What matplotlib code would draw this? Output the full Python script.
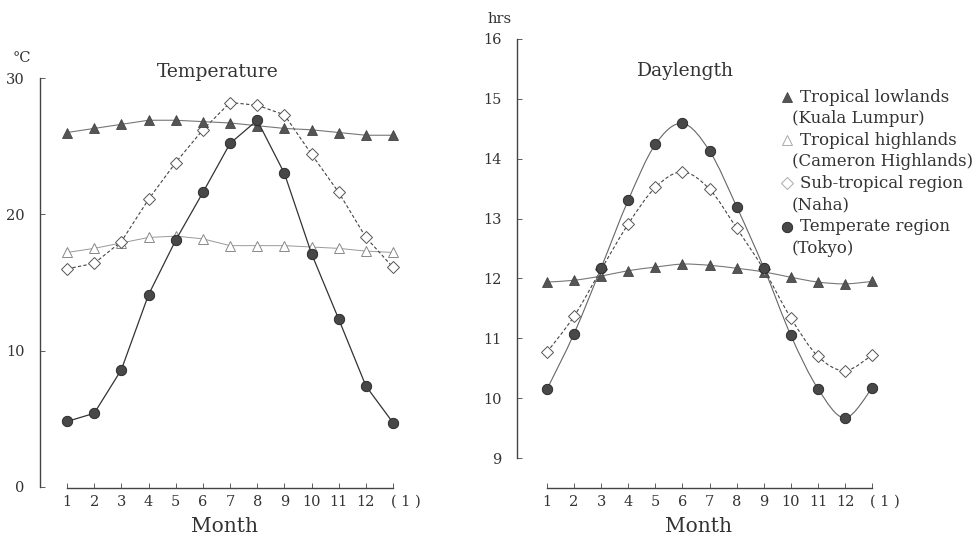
import numpy as np
import matplotlib.pyplot as plt
from matplotlib.path import Path
from matplotlib.patches import PathPatch
from matplotlib.lines import Line2D
from matplotlib.transforms import offset_copy

plt.rcParams['font.family'] = ['DejaVu Serif']

# data
months = np.arange(1, 14)
month_labels = ['1', '2', '3', '4', '5', '6', '7', '8', '9', '10', '11', '12', '( 1 )']

# Temperature (deg C)
temp_lowlands = [26.0, 26.3, 26.6, 26.9, 26.9, 26.8, 26.7, 26.5, 26.3, 26.2, 26.0, 25.8, 25.8]
temp_highlands = [17.2, 17.5, 17.9, 18.3, 18.4, 18.2, 17.7, 17.7, 17.7, 17.6, 17.5, 17.3, 17.2]
temp_subtrop = [16.0, 16.4, 18.0, 21.1, 23.8, 26.2, 28.2, 28.0, 27.3, 24.4, 21.6, 18.3, 16.1]
temp_temperate = [4.8, 5.4, 8.6, 14.1, 18.1, 21.6, 25.2, 26.9, 23.0, 17.1, 12.3, 7.4, 4.7]

# Daylength (hrs)
day_lowlands = [11.94, 11.97, 12.04, 12.13, 12.19, 12.24, 12.22, 12.17, 12.11, 12.02, 11.94, 11.91, 11.95]
day_subtrop = [10.77, 11.37, 12.15, 12.91, 13.52, 13.78, 13.49, 12.84, 12.15, 11.34, 10.70, 10.46, 10.72]
day_temperate = [10.15, 11.08, 12.18, 13.31, 14.24, 14.59, 14.13, 13.20, 12.18, 11.05, 10.16, 9.67, 10.17]

legend_lines = [('Tropical lowlands', '(Kuala Lumpur)'),
                ('Tropical highlands', '(Cameron Highlands)'),
                ('Sub-tropical region', '(Naha)'),
                ('Temperate region', '(Tokyo)')]

ink = '#333333'

sty_low = dict(color='#777777', lw=0.8, marker='^', ms=7, mfc='#555555', mec='#444444', mew=0.6)
sty_high = dict(color='#999999', lw=0.7, marker='^', ms=7.5, mfc='white', mec='#888888', mew=0.7)
sty_sub = dict(color='#444444', lw=0.8, ls=(0, (3, 2)), marker='D', ms=5.8, mfc='white', mec='#555555', mew=0.7)
sty_temp = dict(color='#333333', lw=0.9, marker='o', ms=7.5, mfc='#484848', mec='#222222', mew=0.6)


def smooth_path(x, y):
    # catmull-rom curve through the points, as bezier segments
    pts = np.column_stack([x, y]).astype(float)
    p = np.vstack([pts[0], pts, pts[-1]])
    verts = [tuple(pts[0])]
    codes = [Path.MOVETO]
    for i in range(1, len(p) - 2):
        c1 = p[i] + (p[i + 1] - p[i - 1]) / 6
        c2 = p[i + 1] - (p[i + 2] - p[i]) / 6
        verts += [tuple(c1), tuple(c2), tuple(p[i + 1])]
        codes += [Path.CURVE4] * 3
    return Path(verts, codes)


def style_axes(ax, ybounds, yticks):
    for s in ['top', 'right']:
        ax.spines[s].set_visible(False)
    for s in ['left', 'bottom']:
        ax.spines[s].set_color('#444444')
        ax.spines[s].set_linewidth(1.0)
    ax.spines['left'].set_bounds(*ybounds)
    ax.spines['bottom'].set_bounds(1, 13)
    ax.set_xticks(months)
    ax.set_xticklabels(month_labels)
    ax.set_yticks(yticks)
    ax.tick_params(direction='in', length=3.5, width=0.6, colors='#444444',
                   labelcolor=ink, labelsize=10.5)
    ax.tick_params(axis='y', pad=11)
    ax.tick_params(axis='x', pad=5)
    ax.set_facecolor('none')
    # the "(1)" label sits a bit right of its tick
    last = ax.get_xticklabels()[-1]
    last.set_transform(offset_copy(last.get_transform(), fig=ax.figure, x=13, units='dots'))


fig = plt.figure(figsize=(9.77, 5.37), dpi=100)
W, H = 977, 537

# ---- Temperature ----
ax1 = fig.add_axes([40 / W, 49 / H, 358 / W, 410 / H])
ax1.set_xlim(0.006, 13.18)
ax1.set_ylim(-0.08, 30.0)
style_axes(ax1, (0, 30), [0, 10, 20, 30])

ax1.plot(months, temp_lowlands, clip_on=False, zorder=3, **sty_low)
ax1.plot(months, temp_highlands, clip_on=False, zorder=2, **sty_high)
ax1.plot(months, temp_subtrop, clip_on=False, zorder=2, **sty_sub)
ax1.plot(months, temp_temperate, clip_on=False, zorder=4, **sty_temp)

fig.text(218 / W, 1 - 72 / H, 'Temperature', ha='center', va='center', fontsize=13.5, color=ink)
fig.text(22 / W, 1 - 58 / H, '°C', ha='center', va='center', fontsize=10.5, color=ink)
fig.text(224 / W, 1 - 527 / H, 'Month', ha='center', va='center', fontsize=14.5, color=ink)

# ---- Daylength ----
ax2 = fig.add_axes([517 / W, 49 / H, 360 / W, 449 / H])
ax2.set_xlim(-0.107, 13.18)
ax2.set_ylim(8.5, 16.0)
style_axes(ax2, (9, 16), list(range(9, 17)))

ax2.add_patch(PathPatch(smooth_path(months, day_lowlands), fill=False,
                        ec=sty_low['color'], lw=sty_low['lw'], zorder=2))
ax2.add_patch(PathPatch(smooth_path(months, day_subtrop), fill=False,
                        ec=sty_sub['color'], lw=sty_sub['lw'], ls=(0, (3, 2)), zorder=2))
ax2.add_patch(PathPatch(smooth_path(months, day_temperate), fill=False,
                        ec='#666666', lw=0.8, zorder=2))
mk = lambda d: {k: v for k, v in d.items() if k not in ('color', 'lw', 'ls')}
ax2.plot(months, day_lowlands, ls='none', zorder=3, clip_on=False, **mk(sty_low))
ax2.plot(months, day_subtrop, ls='none', zorder=3, clip_on=False, **mk(sty_sub))
ax2.plot(months, day_temperate, ls='none', zorder=4, clip_on=False, **mk(sty_temp))

fig.text(685 / W, 1 - 71 / H, 'Daylength', ha='center', va='center', fontsize=13.5, color=ink)
fig.text(500 / W, 1 - 19 / H, 'hrs', ha='center', va='center', fontsize=10.5, color=ink)
fig.text(699 / W, 1 - 527 / H, 'Month', ha='center', va='center', fontsize=14.5, color=ink)

# ---- legend ----
leg_markers = [mk(sty_low), mk(sty_high), mk(sty_sub), mk(sty_temp)]
leg_markers[1]['mec'] = '#aaaaaa'
leg_markers[2]['mec'] = '#aaaaaa'
y0 = 97
step = 21.6
for i, ((l1, l2), m) in enumerate(zip(legend_lines, leg_markers)):
    ya = y0 + 2 * step * i
    yb = ya + step
    fig.add_artist(Line2D([787 / W], [1 - ya / H], ls='none', transform=fig.transFigure, **m))
    fig.text(800 / W, 1 - ya / H, l1, ha='left', va='center', fontsize=12, color=ink)
    fig.text(792 / W, 1 - yb / H, l2, ha='left', va='center', fontsize=12, color=ink)

fig.savefig('out.png', dpi=100, facecolor='white')
